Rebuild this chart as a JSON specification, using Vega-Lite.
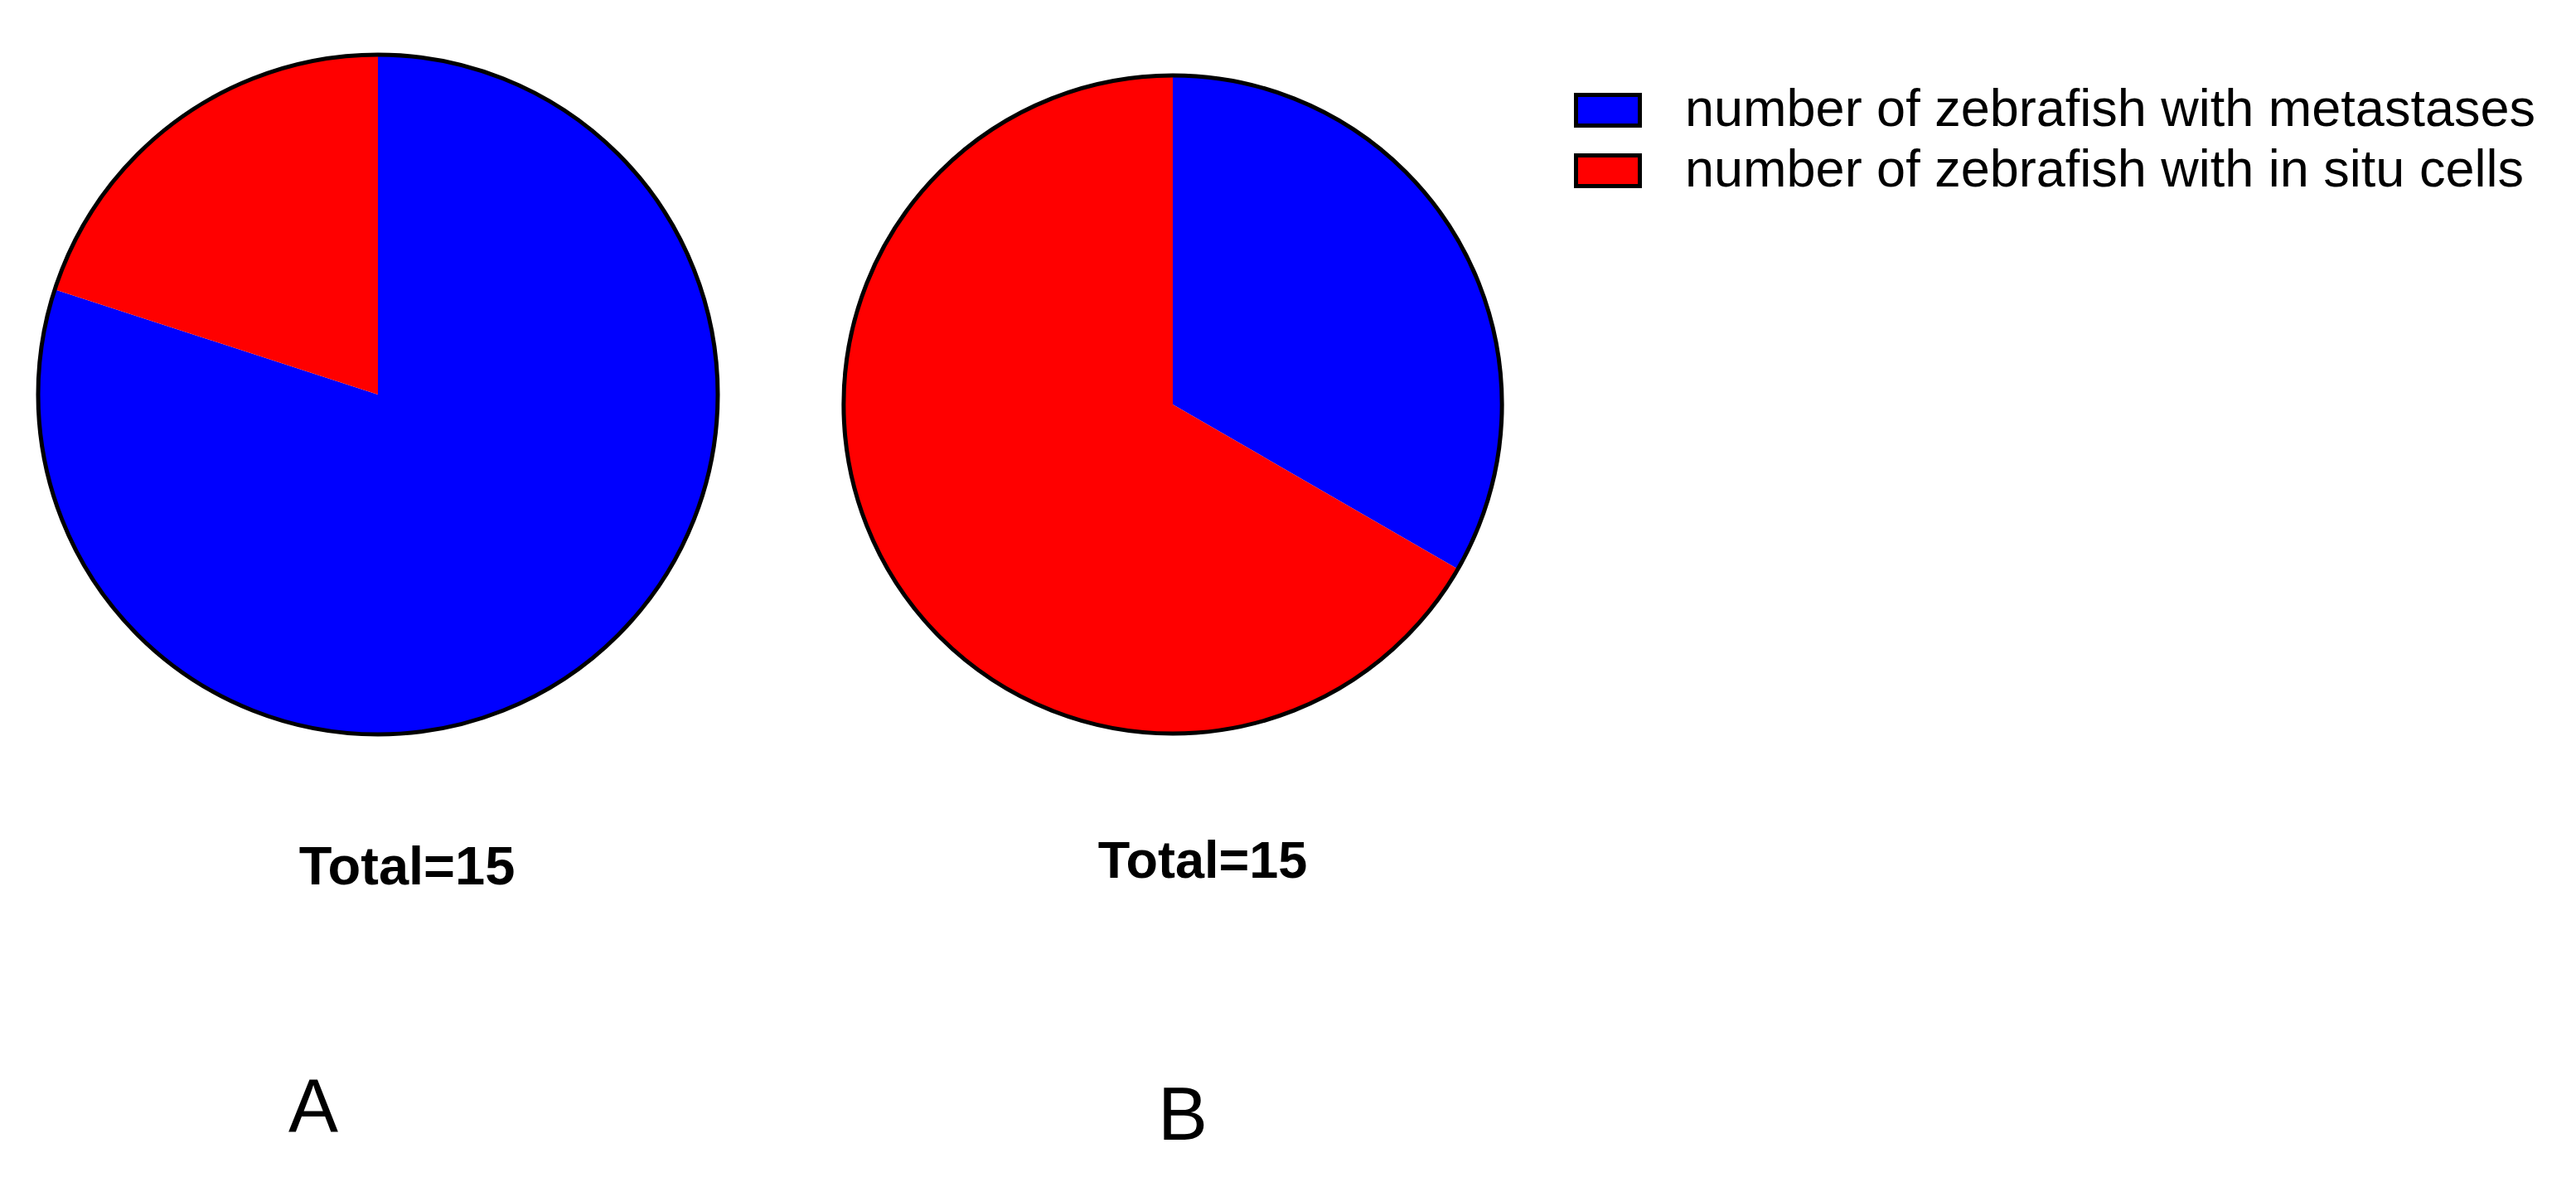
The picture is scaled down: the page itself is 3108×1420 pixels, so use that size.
{
  "$schema": "https://vega.github.io/schema/vega-lite/v6.json",
  "padding": 0,
  "background": "white",
  "spacing": 0,
  "datasets": {
    "counts": [
      {"panel": "A", "category": "number of zebrafish with metastases", "count": 12},
      {"panel": "A", "category": "number of zebrafish with in situ cells", "count": 3},
      {"panel": "B", "category": "number of zebrafish with metastases", "count": 5},
      {"panel": "B", "category": "number of zebrafish with in situ cells", "count": 10}
    ],
    "labels": [
      {"panel": "A", "total": "Total=15", "letter": "A"},
      {"panel": "B", "total": "Total=15", "letter": "B"}
    ]
  },
  "config": {
    "view": {"stroke": null},
    "legend": {
      "orient": "none",
      "legendX": 1899,
      "legendY": 92,
      "labelFont": "Liberation Sans",
      "labelFontSize": 63,
      "labelColor": "black",
      "labelLimit": 2000,
      "symbolType": "M-1,-0.48H1V0.48H-1Z",
      "symbolSize": 5929,
      "symbolStrokeColor": "black",
      "symbolStrokeWidth": 5,
      "labelOffset": 52,
      "rowPadding": -1
    }
  },
  "hconcat": [
    {
      "spacing": 0,
      "vconcat": [
        {
          "width": 912,
          "height": 952,
          "data": {"name": "counts"},
          "transform": [{"filter": "datum.panel === 'A'"}],
          "layer": [
            {
              "transform": [{"stack": "count", "groupby": ["panel"], "sort": [{"field": "category", "order": "descending"}], "as": ["start", "end"]}],
              "mark": {"type": "arc", "outerRadius": 410},
              "encoding": {
                "theta": {"field": "start", "type": "quantitative", "scale": {"domain": [0, 15]}},
                "theta2": {"field": "end"},
                "color": {"field": "category", "type": "nominal", "title": null,
                  "scale": {"domain": ["number of zebrafish with metastases", "number of zebrafish with in situ cells"], "range": ["#0000ff", "#ff0000"]}}
              }
            },
            {
              "transform": [{"aggregate": [{"op": "sum", "field": "count", "as": "total"}], "groupby": ["panel"]}],
              "mark": {"type": "arc", "outerRadius": 410, "filled": false, "stroke": "black", "strokeWidth": 5},
              "encoding": {
                "theta": {"field": "total", "type": "quantitative", "scale": {"domain": [0, 15]}}
              }
            }
          ]
        },
        {
          "width": 912,
          "height": 190,
          "data": {"name": "labels"},
          "transform": [{"filter": "datum.panel === 'A'"}],
          "mark": {"type": "text", "font": "Liberation Sans", "fontWeight": "bold", "fontSize": 65, "color": "black", "baseline": "middle", "dx": 35},
          "encoding": {"text": {"field": "total"}}
        },
        {
          "width": 912,
          "height": 278,
          "data": {"name": "labels"},
          "transform": [{"filter": "datum.panel === 'A'"}],
          "mark": {"type": "text", "font": "Liberation Sans", "fontSize": 90, "color": "black", "baseline": "middle", "dx": -78, "dy": 57},
          "encoding": {"text": {"field": "letter"}}
        }
      ]
    },
    {
      "spacing": 0,
      "vconcat": [
        {
          "width": 1006,
          "height": 976,
          "data": {"name": "counts"},
          "transform": [{"filter": "datum.panel === 'B'"}],
          "layer": [
            {
              "transform": [{"stack": "count", "groupby": ["panel"], "sort": [{"field": "category", "order": "descending"}], "as": ["start", "end"]}],
              "mark": {"type": "arc", "outerRadius": 397},
              "encoding": {
                "theta": {"field": "start", "type": "quantitative", "scale": {"domain": [0, 15]}},
                "theta2": {"field": "end"},
                "color": {"field": "category", "type": "nominal", "title": null,
                  "scale": {"domain": ["number of zebrafish with metastases", "number of zebrafish with in situ cells"], "range": ["#0000ff", "#ff0000"]}}
              }
            },
            {
              "transform": [{"aggregate": [{"op": "sum", "field": "count", "as": "total"}], "groupby": ["panel"]}],
              "mark": {"type": "arc", "outerRadius": 397, "filled": false, "stroke": "black", "strokeWidth": 5},
              "encoding": {
                "theta": {"field": "total", "type": "quantitative", "scale": {"domain": [0, 15]}}
              }
            }
          ]
        },
        {
          "width": 1006,
          "height": 128,
          "data": {"name": "labels"},
          "transform": [{"filter": "datum.panel === 'B'"}],
          "mark": {"type": "text", "font": "Liberation Sans", "fontWeight": "bold", "fontSize": 63, "color": "black", "baseline": "middle", "dx": 36},
          "encoding": {"text": {"field": "total"}}
        },
        {
          "width": 1006,
          "height": 316,
          "data": {"name": "labels"},
          "transform": [{"filter": "datum.panel === 'B'"}],
          "mark": {"type": "text", "font": "Liberation Sans", "fontSize": 90, "color": "black", "baseline": "middle", "dx": 12, "dy": 86},
          "encoding": {"text": {"field": "letter"}}
        }
      ]
    }
  ]
}
